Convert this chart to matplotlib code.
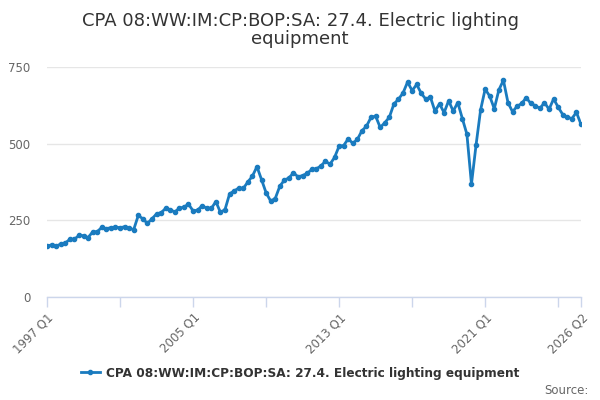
import numpy as np
import matplotlib
matplotlib.use('Agg')
import matplotlib.pyplot as plt

# quarterly values 1997 Q1 .. 2026 Q2
valores = [166, 170, 165, 173, 176, 188, 188, 201, 200, 194,
           212, 213, 227, 223, 226, 228, 226, 229, 224, 220,
           266, 255, 240, 255, 271, 275, 289, 285, 277, 290,
           293, 303, 281, 283, 298, 289, 289, 311, 276, 285,
           336, 346, 355, 354, 375, 394, 425, 383, 340, 313,
           321, 361, 381, 388, 405, 392, 396, 403, 416, 418,
           427, 443, 433, 455, 492, 494, 516, 501, 514, 542,
           557, 586, 590, 553, 568, 586, 629, 645, 665, 701,
           673, 693, 664, 645, 652, 606, 630, 601, 640, 606,
           634, 582, 531, 368, 495, 610, 678, 655, 614, 675,
           707, 634, 604, 622, 631, 650, 631, 624, 615, 634,
           612, 646, 619, 595, 586, 582, 602, 563]

trimestres = ['%d Q%d' % (1997 + k // 4, k % 4 + 1) for k in range(len(valores))]
x = np.arange(len(valores))

rotulos_x = ['1997 Q1', '2005 Q1', '2013 Q1', '2021 Q1', '2026 Q2']
ticks_y = [0, 250, 500, 750]

nome = 'CPA 08:WW:IM:CP:BOP:SA: 27.4. Electric lighting equipment'
cor = '#1a7bbf'

fig = plt.figure(figsize=(6, 4), dpi=100)
ax = fig.add_axes([47 / 600, 1 - 297 / 400, 534 / 600, 230 / 400])

ax.plot(x, valores, '-', marker='o', color=cor, markersize=3, linewidth=2, label=nome)

ax.set_xlim(0, len(valores) - 1)
ax.set_ylim(0, 750)

# ticks every 4 years, labels only every 8 years + last
ticks_x = list(range(0, len(valores), 16)) + [len(valores) - 1]
ax.set_xticks(ticks_x)
ax.set_xticklabels([t if t in rotulos_x else '' for t in [trimestres[k] for k in ticks_x]],
                   rotation=45, ha='right', va='top', rotation_mode='anchor')
ax.tick_params(axis='x', length=7, width=1, color='#ccd6eb', labelsize=8.5,
               labelcolor='#666666', pad=3)

ax.set_yticks(ticks_y)
ax.set_yticklabels([str(v) for v in ticks_y])
ax.tick_params(axis='y', length=0, labelsize=8.5, labelcolor='#666666', pad=12)
ax.yaxis.grid(True, color='#e6e6e6', linewidth=1)
ax.set_axisbelow(True)

for lado in ['top', 'right', 'left']:
    ax.spines[lado].set_visible(False)
ax.spines['bottom'].set_color('#ccd6eb')
ax.spines['bottom'].set_linewidth(1)

fig.text(0.5, 1 - 25.5 / 400, 'CPA 08:WW:IM:CP:BOP:SA: 27.4. Electric lighting',
         ha='center', va='baseline', fontsize=13, color='#333333')
fig.text(0.5, 1 - 44.5 / 400, 'equipment',
         ha='center', va='baseline', fontsize=13, color='#333333')

fig.legend(loc='center', bbox_to_anchor=(0.5, 1 - 373 / 400), frameon=False,
           prop={'size': 8.7, 'weight': 'bold'}, labelcolor='#333333',
           handlelength=1.6, handletextpad=0.5)

fig.text(589 / 600, 1 - 390 / 400, 'Source:', ha='right', va='center', fontsize=8.5, color='#666666')

fig.savefig('out.png', dpi=100)
